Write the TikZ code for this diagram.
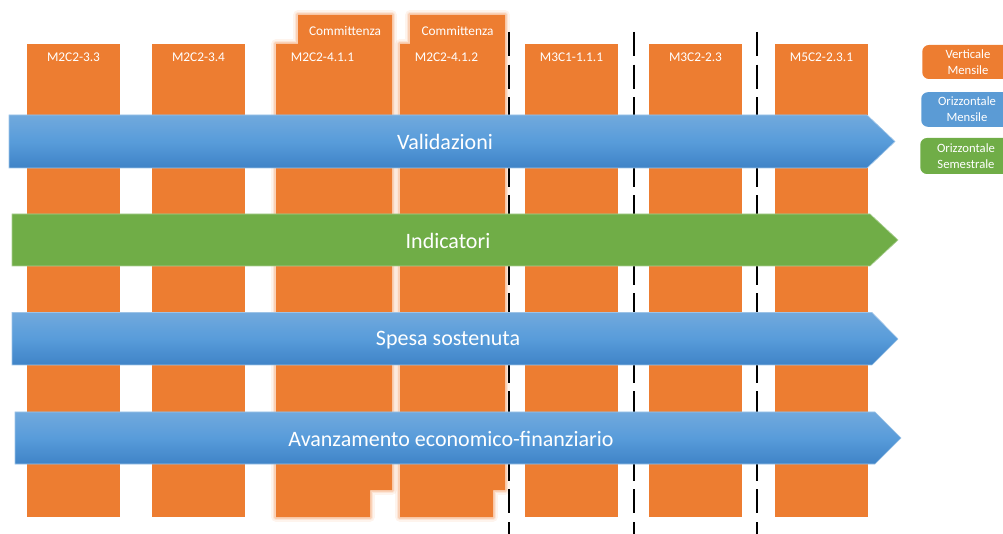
\documentclass[tikz,border=0pt]{standalone}
\usepackage{fontspec}
\setmainfont{Carlito}
\definecolor{orj}{HTML}{ED7D31}
\definecolor{glowc}{HTML}{F4A36C}
\definecolor{blutop}{HTML}{71A9DD}
\definecolor{blumid}{HTML}{589CDA}
\definecolor{blubot}{HTML}{3F83C7}
\definecolor{bluflat}{HTML}{5B9BD5}
\definecolor{grn}{HTML}{70AD47}
\begin{document}
\begin{tikzpicture}[x=0.75pt,y=-0.75pt,
  lbl/.style={text=white, font=\fontsize{10}{12}\selectfont, inner sep=0},
  bandtxt/.style={text=white, font=\fontsize{16.5}{19}\selectfont, inner sep=0},
  legtxt/.style={text=white, font=\fontsize{9.5}{12}\selectfont, align=center, inner sep=0},
  blueband/.style={top color=blutop, bottom color=blubot, middle color=blumid, draw=blutop!70!white, line width=0.5pt},
  greenband/.style={fill=grn, draw=grn!60!white, line width=0.5pt},
  sep/.style={draw=black, line width=2pt, dash pattern=on 18pt off 6.5pt},
  glowa/.style={draw=glowc, line width=7pt, opacity=0.12, line join=round},
  glowb/.style={draw=glowc, line width=5pt, opacity=0.18, line join=round},
  glowd/.style={draw=glowc, line width=3pt, opacity=0.3, line join=round}
]
\useasboundingbox (0,0) rectangle (1003,534);
\clip (0,0) rectangle (1003,534);

% plain columns
\foreach \x/\t/\n in {27/M2C2-3.3/c1, 152/M2C2-3.4/c2, 525/M3C1-1.1.1/c5, 649/M3C2-2.3/c6, 775/M5C2-2.3.1/c7}{
  \fill[orj] (\x,44) rectangle (\x+93,517);
  \node[lbl] (\n) at (\x+46.5,57) {\t};
}

% columns with Committenza tabs
\foreach \g in {glowa,glowb,glowd}{
  \path[\g] (276,44) -- (298,44) -- (298,15) -- (392,15) -- (392,490) -- (370,490) -- (370,517) -- (276,517) -- cycle;
  \path[\g] (400,44) -- (410,44) -- (410,15) -- (505,15) -- (505,490) -- (493,490) -- (493,517) -- (400,517) -- cycle;
}
\fill[orj] (276,44) -- (298,44) -- (298,15) -- (392,15) -- (392,490) -- (370,490) -- (370,517) -- (276,517) -- cycle;
\fill[orj] (400,44) -- (410,44) -- (410,15) -- (505,15) -- (505,490) -- (493,490) -- (493,517) -- (400,517) -- cycle;
\node[lbl] (c3) at (322.5,57) {M2C2-4.1.1};
\node[lbl] (c4) at (446.5,57) {M2C2-4.1.2};
\node[lbl] (t3) at (345,30.5) {Committenza};
\node[lbl] (t4) at (457.5,30.5) {Committenza};

% separators
\foreach \x in {509,634,757}{
  \draw[sep] (\x,32) -- (\x,540);
}

% bands
\path[blueband] (9,115) -- (867,115) -- (895,141.5) -- (867,168) -- (9,168) -- cycle;
\node[bandtxt] (b1) at (445,142) {Validazioni};
\path[greenband] (12,214) -- (870,214) -- (898,240) -- (870,266) -- (12,266) -- cycle;
\node[bandtxt] (b2) at (448,241) {Indicatori};
\path[blueband] (12,312.5) -- (872,312.5) -- (898,339) -- (872,365) -- (12,365) -- cycle;
\node[bandtxt] (b3) at (448,340) {Spesa sostenuta};
\path[blueband] (15,412) -- (875,412) -- (901,438) -- (875,464) -- (15,464) -- cycle;
\node[bandtxt] (b4) at (451,438.5) {Avanzamento economico-finanziario};

% legend
\node[draw=none, fill=orj, rounded corners=5pt, minimum width=70.5pt, minimum height=25.5pt, inner sep=0, anchor=west] (l1) at (922,62) {};
\node[legtxt] (l1t) at (968,62) {Verticale\\Mensile};
\node[draw=none, fill=bluflat, rounded corners=5pt, minimum width=71pt, minimum height=26pt, inner sep=0, anchor=west] (l2) at (921,109.5) {};
\node[legtxt] (l2t) at (967,109.5) {Orizzontale\\Mensile};
\node[draw=none, fill=grn, rounded corners=5pt, minimum width=72pt, minimum height=27pt, inner sep=0, anchor=west] (l3) at (920,156) {};
\node[legtxt] (l3t) at (966,156) {Orizzontale\\Semestrale};
\end{tikzpicture}
\end{document}
